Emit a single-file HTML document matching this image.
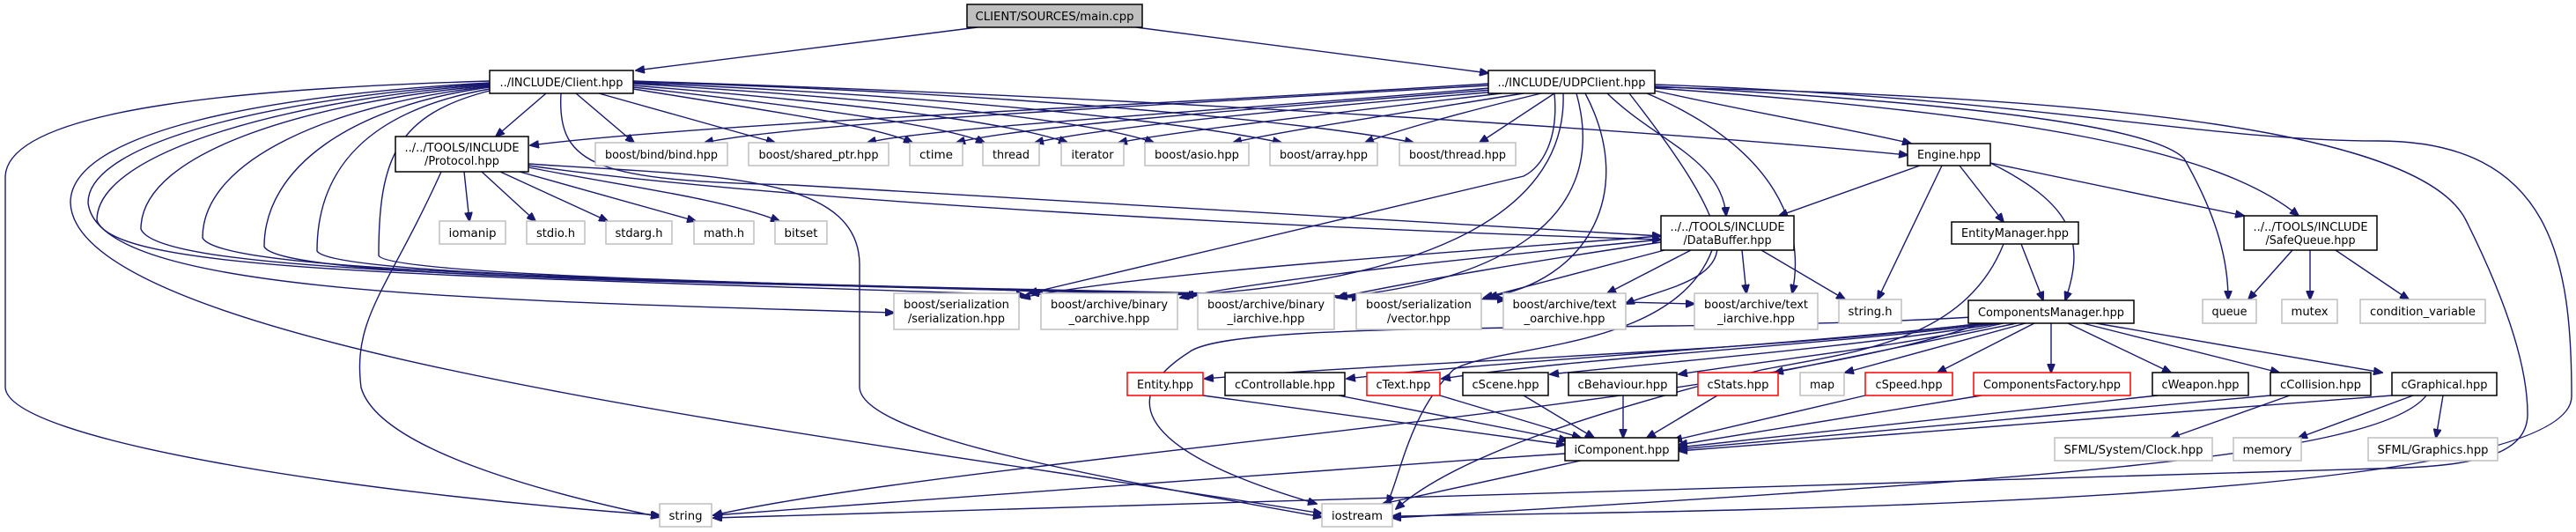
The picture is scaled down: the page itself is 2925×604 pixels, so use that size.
<!DOCTYPE html>
<html><head><meta charset="utf-8"><style>
html,body{margin:0;padding:0;background:#fff;}
svg{display:block;}
text{font-family:"DejaVu Sans","Liberation Sans",sans-serif;font-size:13px;fill:#000;}
.e{fill:none;stroke:#191970;stroke-width:1.4;marker-end:url(#a);}
.b{fill:#fff;stroke:#000;stroke-width:1.5;}
.g{fill:#fff;stroke:#bfbfbf;stroke-width:1.5;}
.r{fill:#fff;stroke:#ff0000;stroke-width:1.5;}
</style></head><body>
<svg width="2925" height="604" viewBox="0 0 2925 604" xmlns="http://www.w3.org/2000/svg">
<defs><marker id="a" markerUnits="userSpaceOnUse" markerWidth="11" markerHeight="9" refX="10" refY="4.5" orient="auto"><path d="M0,0 L11,4.5 L0,9 z" fill="#191970" stroke="#191970"/></marker></defs>
<g>
<path class="e" d="M1110,31 L722,80"/>
<path class="e" d="M1290,31 L1690,83"/>
<path class="e" d="M620,106 L563,155"/>
<path class="e" d="M654,106 L720,162"/>
<path class="e" d="M680,106 L880,162"/>
<path class="e" d="M719,101 C900,130 1000,145 1036,162"/>
<path class="e" d="M719,99 C950,125 1080,145 1118,162"/>
<path class="e" d="M719,97 C1000,120 1150,140 1212,162"/>
<path class="e" d="M719,95 C1050,115 1250,140 1310,162"/>
<path class="e" d="M719,94 C1100,110 1350,140 1455,162"/>
<path class="e" d="M719,93 C1150,105 1500,140 1605,162"/>
<path class="e" d="M719,92 C1300,110 1900,150 2166,176"/>
<path class="e" d="M637,106 C632,190 680,205 900,210 L1886,268"/>
<path class="e" d="M556,92 C300,100 10,120 6,200 L6,440 C10,500 400,560 749,585"/>
<path class="e" d="M556,94 C300,108 80,150 80,230 C85,400 1000,500 1501,583"/>
<path class="e" d="M556,95 C320,110 100,160 100,230 C110,330 500,340 1015,355"/>
<path class="e" d="M556,96 C340,112 110,170 110,250 C130,310 500,312 1164,335"/>
<path class="e" d="M556,97 C360,115 160,170 160,260 C180,310 600,315 1360,335"/>
<path class="e" d="M556,98 C380,118 230,180 230,270 C250,310 700,318 1545,338"/>
<path class="e" d="M556,99 C400,120 300,190 300,280 C320,320 900,322 1710,340"/>
<path class="e" d="M556,101 C420,125 360,190 360,285 C380,320 1100,325 1924,345"/>
<path class="e" d="M556,103 C450,130 430,180 430,290 C440,320 1300,328 1170,333"/>
<path class="e" d="M527,195 L533,251"/>
<path class="e" d="M547,195 L608,251"/>
<path class="e" d="M568,195 L690,251"/>
<path class="e" d="M590,195 L790,251"/>
<path class="e" d="M600,190 C700,210 820,225 885,251"/>
<path class="e" d="M501,195 C440,330 400,360 410,440 C430,510 620,560 749,587"/>
<path class="e" d="M600,186 C800,200 975,195 976,300 L976,440 C980,500 1300,550 1501,587"/>
<path class="e" d="M600,188 C900,230 1500,260 1886,272"/>
<path class="e" d="M1690,95 C1300,120 800,140 602,165"/>
<path class="e" d="M1690,97 C1300,120 900,140 800,162"/>
<path class="e" d="M1692,100 C1400,125 1050,145 985,162"/>
<path class="e" d="M1695,102 C1400,125 1150,145 1086,162"/>
<path class="e" d="M1700,104 C1450,125 1250,145 1175,162"/>
<path class="e" d="M1705,106 C1500,130 1330,150 1270,162"/>
<path class="e" d="M1730,106 C1550,135 1450,150 1400,162"/>
<path class="e" d="M1750,106 C1650,130 1580,150 1550,162"/>
<path class="e" d="M1765,106 L1680,162"/>
<path class="e" d="M1825,106 C1880,160 1955,180 1960,245"/>
<path class="e" d="M1879,103 C2000,130 2120,150 2170,163"/>
<path class="e" d="M1879,100 C2300,130 2520,170 2610,245"/>
<path class="e" d="M1879,98 C2300,120 2450,150 2480,180 C2520,250 2530,300 2530,340"/>
<path class="e" d="M1879,96 C2300,110 2500,160 2700,160 C2900,160 2920,300 2920,450 C2920,570 2000,580 1581,586"/>
<path class="e" d="M1879,99 C2400,110 2750,150 2800,250 C2850,350 2870,420 2870,470 C2870,520 2800,530 2700,532 L810,588"/>
<path class="e" d="M1765,106 C1770,160 1750,190 1730,200 L1168,333"/>
<path class="e" d="M1775,106 C1780,250 1600,320 1345,335"/>
<path class="e" d="M1790,106 C1830,250 1700,320 1520,337"/>
<path class="e" d="M1800,106 C1860,220 1800,320 1690,337"/>
<path class="e" d="M1850,106 C1900,170 1950,240 1950,280 C1950,320 1880,330 1846,345"/>
<path class="e" d="M1870,106 C2020,170 2050,260 2035,333"/>
<path class="e" d="M1886,268 C1600,290 1300,310 1160,338"/>
<path class="e" d="M1886,272 C1700,290 1450,315 1340,338"/>
<path class="e" d="M1886,275 C1750,295 1600,320 1518,338"/>
<path class="e" d="M1890,284 L1685,338"/>
<path class="e" d="M1920,284 L1825,333"/>
<path class="e" d="M1978,284 L1983,333"/>
<path class="e" d="M2000,284 L2095,340"/>
<path class="e" d="M1944,284 C1900,400 1700,390 1650,420 C1600,470 1590,540 1575,572"/>
<path class="e" d="M2180,188 L2020,245"/>
<path class="e" d="M2205,188 L2132,340"/>
<path class="e" d="M2225,188 L2275,252"/>
<path class="e" d="M2260,185 C2350,230 2370,270 2345,341"/>
<path class="e" d="M2260,185 L2548,245"/>
<path class="e" d="M2295,277 L2320,341"/>
<path class="e" d="M2275,277 C2230,390 2100,400 2000,420 C1800,470 1650,520 1585,578"/>
<path class="e" d="M2603,284 L2553,340"/>
<path class="e" d="M2623,284 L2623,340"/>
<path class="e" d="M2652,284 L2735,340"/>
<path class="e" d="M2250,367 C2000,400 1600,410 1368,430"/>
<path class="e" d="M2255,367 C2000,395 1700,410 1529,430"/>
<path class="e" d="M2262,367 C2100,390 1800,405 1637,430"/>
<path class="e" d="M2270,367 C2100,395 1900,410 1760,425"/>
<path class="e" d="M2275,367 C2150,395 2000,410 1906,425"/>
<path class="e" d="M2290,367 L2015,423"/>
<path class="e" d="M2300,367 L2095,423"/>
<path class="e" d="M2310,367 L2200,423"/>
<path class="e" d="M2329,367 L2329,423"/>
<path class="e" d="M2348,367 L2465,423"/>
<path class="e" d="M2365,367 L2588,423"/>
<path class="e" d="M2380,367 L2705,423"/>
<path class="e" d="M2240,360 C1900,380 1400,360 1350,400 C1240,470 1350,530 1495,572"/>
<path class="e" d="M2250,367 C2000,460 1100,520 810,585"/>
<path class="e" d="M1366,449 L1777,505"/>
<path class="e" d="M1520,449 L1780,500"/>
<path class="e" d="M1635,449 L1795,497"/>
<path class="e" d="M1730,449 L1810,497"/>
<path class="e" d="M1843,449 L1843,497"/>
<path class="e" d="M1950,449 L1870,497"/>
<path class="e" d="M2118,449 L1900,500"/>
<path class="e" d="M2250,449 L1906,505"/>
<path class="e" d="M2450,449 L1906,508"/>
<path class="e" d="M2578,449 L1906,510"/>
<path class="e" d="M2716,449 L1906,512"/>
<path class="e" d="M2600,449 L2465,497"/>
<path class="e" d="M2740,449 L2610,497"/>
<path class="e" d="M2774,449 L2766,497"/>
<path class="e" d="M2755,449 C2700,520 2300,545 1581,588"/>
<path class="e" d="M1777,515 C1400,540 1000,570 810,585"/>
<path class="e" d="M1795,523 L1570,572"/>
</g>
<g>
<rect x="1098" y="5" width="199" height="26" fill="#bfbfbf" stroke="#000" stroke-width="1.5"/><text x="1197.5" y="23" text-anchor="middle" textLength="180" lengthAdjust="spacingAndGlyphs">CLIENT/SOURCES/main.cpp</text>
<rect class="b" x="556" y="80" width="163" height="26"/><text x="637.5" y="98" text-anchor="middle" textLength="140" lengthAdjust="spacingAndGlyphs">../INCLUDE/Client.hpp</text>
<rect class="b" x="1690" y="80" width="189" height="26"/><text x="1784.5" y="98" text-anchor="middle" textLength="168" lengthAdjust="spacingAndGlyphs">../INCLUDE/UDPClient.hpp</text>
<rect class="b" x="449" y="155" width="151" height="40"/><text x="524.5" y="172" text-anchor="middle" textLength="130" lengthAdjust="spacingAndGlyphs">../../TOOLS/INCLUDE</text><text x="524.5" y="187" text-anchor="middle" textLength="85" lengthAdjust="spacingAndGlyphs">/Protocol.hpp</text>
<rect class="g" x="676" y="162" width="150" height="26"/><text x="751" y="180" text-anchor="middle" textLength="128" lengthAdjust="spacingAndGlyphs">boost/bind/bind.hpp</text>
<rect class="g" x="850" y="162" width="159" height="26"/><text x="929.5" y="180" text-anchor="middle" textLength="136" lengthAdjust="spacingAndGlyphs">boost/shared_ptr.hpp</text>
<rect class="g" x="1033" y="162" width="60" height="26"/><text x="1063" y="180" text-anchor="middle" textLength="38" lengthAdjust="spacingAndGlyphs">ctime</text>
<rect class="g" x="1116" y="162" width="64" height="26"/><text x="1148" y="180" text-anchor="middle" textLength="42" lengthAdjust="spacingAndGlyphs">thread</text>
<rect class="g" x="1205" y="162" width="71" height="26"/><text x="1240.5" y="180" text-anchor="middle" textLength="48" lengthAdjust="spacingAndGlyphs">iterator</text>
<rect class="g" x="1300" y="162" width="118" height="26"/><text x="1359" y="180" text-anchor="middle" textLength="96" lengthAdjust="spacingAndGlyphs">boost/asio.hpp</text>
<rect class="g" x="1442" y="162" width="122" height="26"/><text x="1503" y="180" text-anchor="middle" textLength="100" lengthAdjust="spacingAndGlyphs">boost/array.hpp</text>
<rect class="g" x="1589" y="162" width="132" height="26"/><text x="1655" y="180" text-anchor="middle" textLength="110" lengthAdjust="spacingAndGlyphs">boost/thread.hpp</text>
<rect class="b" x="2166" y="163" width="94" height="25"/><text x="2213" y="180" text-anchor="middle" textLength="72" lengthAdjust="spacingAndGlyphs">Engine.hpp</text>
<rect class="b" x="1886" y="245" width="151" height="39"/><text x="1961.5" y="262" text-anchor="middle" textLength="130" lengthAdjust="spacingAndGlyphs">../../TOOLS/INCLUDE</text><text x="1961.5" y="277" text-anchor="middle" textLength="100" lengthAdjust="spacingAndGlyphs">/DataBuffer.hpp</text>
<rect class="b" x="2216" y="252" width="144" height="25"/><text x="2288" y="269" text-anchor="middle" textLength="122" lengthAdjust="spacingAndGlyphs">EntityManager.hpp</text>
<rect class="b" x="2548" y="245" width="151" height="39"/><text x="2623.5" y="262" text-anchor="middle" textLength="130" lengthAdjust="spacingAndGlyphs">../../TOOLS/INCLUDE</text><text x="2623.5" y="277" text-anchor="middle" textLength="102" lengthAdjust="spacingAndGlyphs">/SafeQueue.hpp</text>
<rect class="g" x="499" y="251" width="75" height="26"/><text x="536.5" y="269" text-anchor="middle" textLength="54" lengthAdjust="spacingAndGlyphs">iomanip</text>
<rect class="g" x="598" y="251" width="66" height="26"/><text x="631" y="269" text-anchor="middle" textLength="44" lengthAdjust="spacingAndGlyphs">stdio.h</text>
<rect class="g" x="688" y="251" width="75" height="26"/><text x="725.5" y="269" text-anchor="middle" textLength="54" lengthAdjust="spacingAndGlyphs">stdarg.h</text>
<rect class="g" x="788" y="251" width="68" height="26"/><text x="822" y="269" text-anchor="middle" textLength="46" lengthAdjust="spacingAndGlyphs">math.h</text>
<rect class="g" x="880" y="251" width="59" height="26"/><text x="909.5" y="269" text-anchor="middle" textLength="38" lengthAdjust="spacingAndGlyphs">bitset</text>
<rect class="g" x="1015" y="333" width="142" height="41"/><text x="1086" y="350" text-anchor="middle" textLength="120" lengthAdjust="spacingAndGlyphs">boost/serialization</text><text x="1086" y="366" text-anchor="middle" textLength="110" lengthAdjust="spacingAndGlyphs">/serialization.hpp</text>
<rect class="g" x="1182" y="333" width="155" height="41"/><text x="1259.5" y="350" text-anchor="middle" textLength="133" lengthAdjust="spacingAndGlyphs">boost/archive/binary</text><text x="1259.5" y="366" text-anchor="middle" textLength="92" lengthAdjust="spacingAndGlyphs">_oarchive.hpp</text>
<rect class="g" x="1360" y="333" width="155" height="41"/><text x="1437.5" y="350" text-anchor="middle" textLength="133" lengthAdjust="spacingAndGlyphs">boost/archive/binary</text><text x="1437.5" y="366" text-anchor="middle" textLength="88" lengthAdjust="spacingAndGlyphs">_iarchive.hpp</text>
<rect class="g" x="1540" y="333" width="142" height="41"/><text x="1611" y="350" text-anchor="middle" textLength="120" lengthAdjust="spacingAndGlyphs">boost/serialization</text><text x="1611" y="366" text-anchor="middle" textLength="72" lengthAdjust="spacingAndGlyphs">/vector.hpp</text>
<rect class="g" x="1707" y="333" width="139" height="41"/><text x="1776.5" y="350" text-anchor="middle" textLength="118" lengthAdjust="spacingAndGlyphs">boost/archive/text</text><text x="1776.5" y="366" text-anchor="middle" textLength="92" lengthAdjust="spacingAndGlyphs">_oarchive.hpp</text>
<rect class="g" x="1924" y="333" width="140" height="41"/><text x="1994" y="350" text-anchor="middle" textLength="118" lengthAdjust="spacingAndGlyphs">boost/archive/text</text><text x="1994" y="366" text-anchor="middle" textLength="88" lengthAdjust="spacingAndGlyphs">_iarchive.hpp</text>
<rect class="g" x="2088" y="340" width="71" height="27"/><text x="2123.5" y="358" text-anchor="middle" textLength="50" lengthAdjust="spacingAndGlyphs">string.h</text>
<rect class="b" x="2235" y="341" width="188" height="26"/><text x="2329" y="359" text-anchor="middle" textLength="166" lengthAdjust="spacingAndGlyphs">ComponentsManager.hpp</text>
<rect class="g" x="2501" y="340" width="61" height="27"/><text x="2531.5" y="358" text-anchor="middle" textLength="40" lengthAdjust="spacingAndGlyphs">queue</text>
<rect class="g" x="2591" y="340" width="63" height="27"/><text x="2622.5" y="358" text-anchor="middle" textLength="42" lengthAdjust="spacingAndGlyphs">mutex</text>
<rect class="g" x="2680" y="340" width="142" height="27"/><text x="2751" y="358" text-anchor="middle" textLength="120" lengthAdjust="spacingAndGlyphs">condition_variable</text>
<rect class="r" x="1280" y="423" width="86" height="26"/><text x="1323" y="441" text-anchor="middle" textLength="64" lengthAdjust="spacingAndGlyphs">Entity.hpp</text>
<rect class="b" x="1391" y="423" width="136" height="26"/><text x="1459" y="441" text-anchor="middle" textLength="114" lengthAdjust="spacingAndGlyphs">cControllable.hpp</text>
<rect class="r" x="1552" y="423" width="83" height="26"/><text x="1593.5" y="441" text-anchor="middle" textLength="62" lengthAdjust="spacingAndGlyphs">cText.hpp</text>
<rect class="b" x="1661" y="423" width="97" height="26"/><text x="1709.5" y="441" text-anchor="middle" textLength="76" lengthAdjust="spacingAndGlyphs">cScene.hpp</text>
<rect class="b" x="1781" y="423" width="123" height="26"/><text x="1842.5" y="441" text-anchor="middle" textLength="102" lengthAdjust="spacingAndGlyphs">cBehaviour.hpp</text>
<rect class="r" x="1928" y="423" width="91" height="26"/><text x="1973.5" y="441" text-anchor="middle" textLength="70" lengthAdjust="spacingAndGlyphs">cStats.hpp</text>
<rect class="g" x="2044" y="423" width="50" height="26"/><text x="2069" y="441" text-anchor="middle" textLength="28" lengthAdjust="spacingAndGlyphs">map</text>
<rect class="r" x="2118" y="423" width="99" height="26"/><text x="2167.5" y="441" text-anchor="middle" textLength="76" lengthAdjust="spacingAndGlyphs">cSpeed.hpp</text>
<rect class="r" x="2241" y="423" width="178" height="26"/><text x="2330" y="441" text-anchor="middle" textLength="156" lengthAdjust="spacingAndGlyphs">ComponentsFactory.hpp</text>
<rect class="b" x="2444" y="423" width="109" height="26"/><text x="2498.5" y="441" text-anchor="middle" textLength="88" lengthAdjust="spacingAndGlyphs">cWeapon.hpp</text>
<rect class="b" x="2578" y="423" width="114" height="26"/><text x="2635" y="441" text-anchor="middle" textLength="92" lengthAdjust="spacingAndGlyphs">cCollision.hpp</text>
<rect class="b" x="2716" y="423" width="119" height="26"/><text x="2775.5" y="441" text-anchor="middle" textLength="98" lengthAdjust="spacingAndGlyphs">cGraphical.hpp</text>
<rect class="b" x="1777" y="497" width="129" height="26"/><text x="1841.5" y="515" text-anchor="middle" textLength="108" lengthAdjust="spacingAndGlyphs">iComponent.hpp</text>
<rect class="g" x="2333" y="497" width="179" height="26"/><text x="2422.5" y="515" text-anchor="middle" textLength="158" lengthAdjust="spacingAndGlyphs">SFML/System/Clock.hpp</text>
<rect class="g" x="2536" y="497" width="77" height="26"/><text x="2574.5" y="515" text-anchor="middle" textLength="56" lengthAdjust="spacingAndGlyphs">memory</text>
<rect class="g" x="2689" y="497" width="147" height="26"/><text x="2762.5" y="515" text-anchor="middle" textLength="126" lengthAdjust="spacingAndGlyphs">SFML/Graphics.hpp</text>
<rect class="g" x="749" y="572" width="59" height="26"/><text x="778.5" y="590" text-anchor="middle" textLength="38" lengthAdjust="spacingAndGlyphs">string</text>
<rect class="g" x="1501" y="572" width="80" height="26"/><text x="1541" y="590" text-anchor="middle" textLength="58" lengthAdjust="spacingAndGlyphs">iostream</text>
</g>
</svg>
</body></html>
